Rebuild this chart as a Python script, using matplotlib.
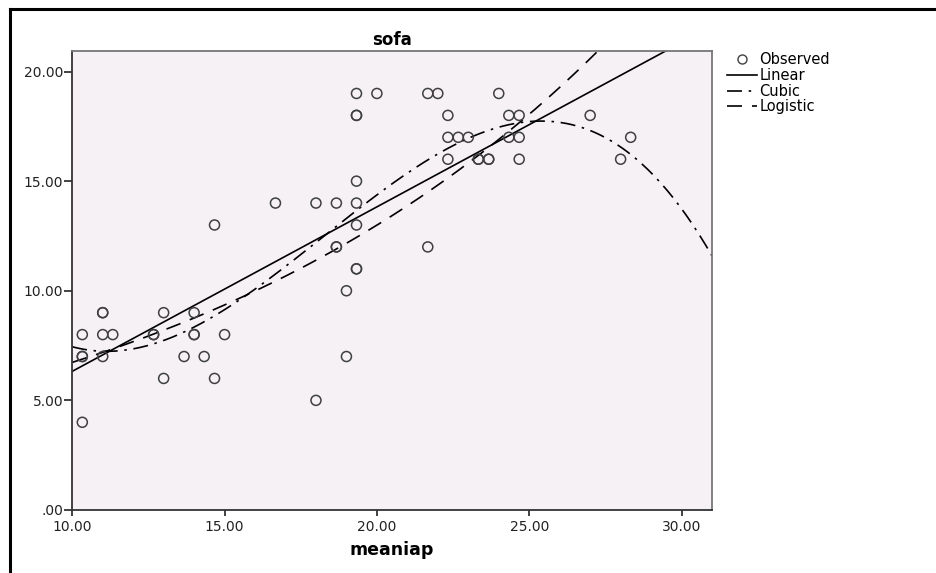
import numpy as np
import matplotlib
matplotlib.use("Agg")
import matplotlib.pyplot as plt
from matplotlib.lines import Line2D
from matplotlib.ticker import FuncFormatter

plt.rcParams['font.family'] = ['DejaVu Sans']

# observed cases (meaniap, sofa); repeated pairs are overlapping circles
meaniap = [10.33, 10.33, 10.33, 10.33, 11.0, 11.0, 11.0, 11.0, 11.33,
           12.67, 12.67, 13.0, 13.0, 13.67, 14.0, 14.0, 14.0, 14.33,
           14.67, 14.67, 15.0, 16.67, 18.0, 18.0, 18.67, 18.67, 18.67,
           19.0, 19.0, 19.33, 19.33, 19.33, 19.33, 19.33, 19.33, 19.33, 19.33,
           20.0, 21.67, 21.67, 22.0, 22.33, 22.33, 22.33, 22.67, 23.0,
           23.33, 23.33, 23.67, 23.67, 24.0, 24.33, 24.33, 24.67, 24.67,
           24.67, 27.0, 28.0, 28.33]
sofa = [7, 7, 8, 4, 9, 9, 8, 7, 8,
        8, 8, 9, 6, 7, 9, 8, 8, 7,
        13, 6, 8, 14, 14, 5, 14, 12, 12,
        10, 7, 19, 18, 18, 15, 14, 13, 11, 11,
        19, 19, 12, 19, 18, 17, 16, 17, 17,
        16, 16, 16, 16, 19, 18, 17, 18, 17,
        16, 18, 16, 17]

x_ticks = [10, 15, 20, 25, 30]
y_ticks = [0, 5, 10, 15, 20]

x = np.array(meaniap)
y = np.array(sofa, dtype=float)

# curve estimation, as in the SPSS output
lin = np.polyfit(x, y, 1)
cub = np.polyfit(x, y, 3)
logi = np.polyfit(x, np.log(y), 1)   # logistic with no upper bound

xs = np.linspace(10, 31, 300)

fig = plt.figure(figsize=(9.36, 5.73), dpi=100)
ax = fig.add_axes([0.0772, 0.110, 0.6835, 0.8015])
ax.set_facecolor('#f5f1f5')

ax.scatter(x, y, s=52, facecolors='none', edgecolors='#404040',
           linewidths=1.1, zorder=3)
ax.plot(xs, np.polyval(lin, xs), color='black', lw=1.2)
ax.plot(xs, np.polyval(cub, xs), color='black', lw=1.2,
        dashes=(9, 4, 1.5, 4))
ax.plot(xs, np.exp(np.polyval(logi, xs)), color='black', lw=1.2,
        dashes=(9, 6))

ax.set_xlim(10, 31)
ax.set_ylim(0, 20.95)
ax.set_xticks(x_ticks)
ax.set_yticks(y_ticks)
fmt = FuncFormatter(lambda v, p: ('%.2f' % v).lstrip('0') if v == 0 else '%.2f' % v)
ax.xaxis.set_major_formatter(fmt)
ax.yaxis.set_major_formatter(fmt)
ax.tick_params(direction='out', width=1.2, labelsize=10, colors='#222222')
ax.tick_params(axis='y', length=6, pad=0.5)
ax.tick_params(axis='x', length=4, pad=3)
for side in ['left', 'bottom']:
    ax.spines[side].set_color('#333333')
    ax.spines[side].set_linewidth(1.3)
for side in ['top', 'right']:
    ax.spines[side].set_color('#777777')
    ax.spines[side].set_linewidth(1.3)

ax.set_title('sofa', fontsize=12, fontweight='bold', pad=4)
ax.set_xlabel('meaniap', fontsize=12.5, fontweight='bold', labelpad=5)

handles = [
    Line2D([], [], marker='o', ls='none', mfc='none', mec='#404040', ms=6.5),
    Line2D([], [], color='black', lw=1.2),
    Line2D([], [], color='black', lw=1.2, dashes=(9, 4, 1.5, 4)),
    Line2D([], [], color='black', lw=1.2, dashes=(9, 6)),
]
fig.legend(handles, ['Observed', 'Linear', 'Cubic', 'Logistic'],
           loc='upper left', bbox_to_anchor=(0.770, 0.919), frameon=False,
           fontsize=10.5, handlelength=2.1, handletextpad=0.15,
           labelspacing=0.05, borderaxespad=0)

# outer frame of the exported chart (only top and left are visible)
fig.add_artist(Line2D([0.0107, 1.0], [0.984, 0.984], color='black', lw=2.2))
fig.add_artist(Line2D([0.0107, 0.0107], [0.0, 0.984], color='black', lw=2.2))

fig.savefig('out.png', dpi=100)
